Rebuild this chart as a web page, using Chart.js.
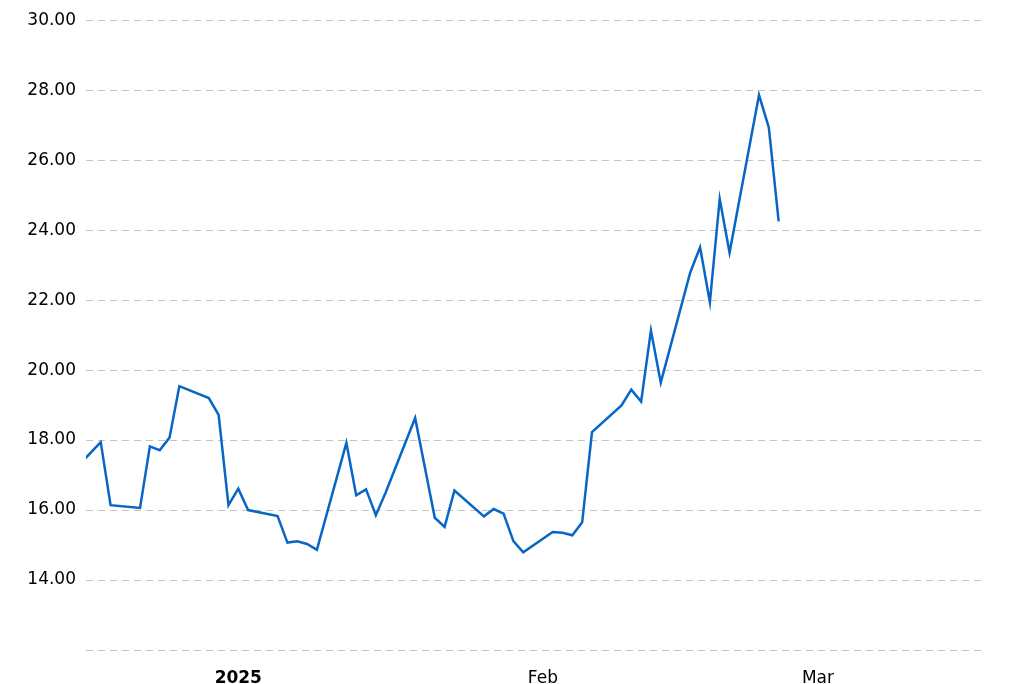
<!DOCTYPE html>
<html>
<head>
<meta charset="utf-8">
<script src="https://cdn.jsdelivr.net/npm/chart.js@4.4.1/dist/chart.umd.min.js"></script>
<style>
    html, body { margin: 0; padding: 0; background: #fff; }
    #wrap { width: 1024px; height: 684px; position: relative; }
</style>
</head>
<body>
<div id="wrap"><canvas id="chart"></canvas></div>
<script>
// Dates where the points sit on the axis, and the prices
const dates = [
    '2024-12-16', '2024-12-18', '2024-12-19', '2024-12-22', '2024-12-23', '2024-12-24',
    '2024-12-25', '2024-12-26', '2024-12-29', '2024-12-30', '2024-12-31', '2025-01-01',
    '2025-01-02', '2025-01-05', '2025-01-06', '2025-01-07', '2025-01-08', '2025-01-09',
    '2025-01-12', '2025-01-13', '2025-01-14', '2025-01-15', '2025-01-16', '2025-01-19',
    '2025-01-21', '2025-01-22', '2025-01-23', '2025-01-26', '2025-01-27', '2025-01-28',
    '2025-01-29', '2025-01-30', '2025-02-02', '2025-02-03', '2025-02-04', '2025-02-05',
    '2025-02-06', '2025-02-09', '2025-02-10', '2025-02-11', '2025-02-12', '2025-02-13',
    '2025-02-16', '2025-02-17', '2025-02-18', '2025-02-19', '2025-02-20', '2025-02-23',
    '2025-02-24', '2025-02-25'
];
const prices = [
    17.35, 17.94, 16.14, 16.06, 17.82, 17.71,
    18.07, 19.54, 19.20, 18.72, 16.14, 16.61,
    16.00, 15.83, 15.07, 15.11, 15.03, 14.86,
    17.92, 16.42, 16.59, 15.85, 16.50, 18.63,
    15.78, 15.52, 16.56, 15.82, 16.03, 15.90,
    15.11, 14.79, 15.37, 15.35, 15.28, 15.65,
    18.23, 18.99, 19.44, 19.10, 21.13, 19.64,
    22.79, 23.51, 21.94, 24.89, 23.36, 27.86,
    26.93, 24.25
];

// Axis ticks
const xTickDates = ['2025-01-01', '2025-02-01', '2025-03-01'];
const xTickLabels = ['2025', 'Feb', 'Mar'];
const xRangeStart = '2024-12-16';
const xRangeEnd = '2025-03-18';
const yMin = 12;
const yMax = 30;
const yStep = 2;

// day number relative to 1 Jan 2025
const toDay = (s) => {
    const [y, m, d] = s.split('-').map(Number);
    return (Date.UTC(y, m - 1, d) - Date.UTC(2025, 0, 1)) / 86400000;
};

const points = dates.map((d, i) => ({ x: toDay(d), y: prices[i] }));
const FONT = "'DejaVu Sans', Verdana, sans-serif";
const TEXT = '#000';

new Chart(document.getElementById('chart').getContext('2d'), {
    type: 'line',
    data: {
        datasets: [{
            data: points,
            borderColor: '#0866c6',
            borderWidth: 2.5,
            pointRadius: 0,
            tension: 0,
            fill: false,
            clip: 0,
        }],
    },
    options: {
        responsive: true,
        maintainAspectRatio: false,
        animation: false,
        layout: { padding: { top: 19, right: 39, bottom: 0, left: 0 } },
        plugins: { legend: { display: false }, tooltip: { enabled: false } },
        scales: {
            x: {
                type: 'linear',
                min: toDay(xRangeStart) + 0.5,
                max: toDay(xRangeEnd),
                grid: { display: false },
                border: { display: false },
                afterBuildTicks: (scale) => {
                    scale.ticks = xTickDates.map(d => ({ value: toDay(d) }));
                },
                afterFit: (scale) => { scale.height = 34; },
                ticks: {
                    padding: 10,
                    maxRotation: 0,
                    autoSkip: false,
                    color: TEXT,
                    font: (ctx) => ({ family: FONT, size: 17, weight: ctx.index === 0 ? 'bold' : 'normal' }),
                    callback: (value, index) => xTickLabels[index],
                },
            },
            y: {
                min: yMin,
                max: yMax,
                grid: { color: '#c4c4c4', lineWidth: 1, drawTicks: false },
                border: { display: false, dash: [7, 5] },
                afterFit: (scale) => { scale.width = 86; },
                ticks: {
                    stepSize: yStep,
                    padding: 10,
                    color: TEXT,
                    font: { family: FONT, size: 17 },
                    callback: (value) => value === yMin ? '' : value.toFixed(2),
                },
            },
        },
    },
});
</script>
</body>
</html>
